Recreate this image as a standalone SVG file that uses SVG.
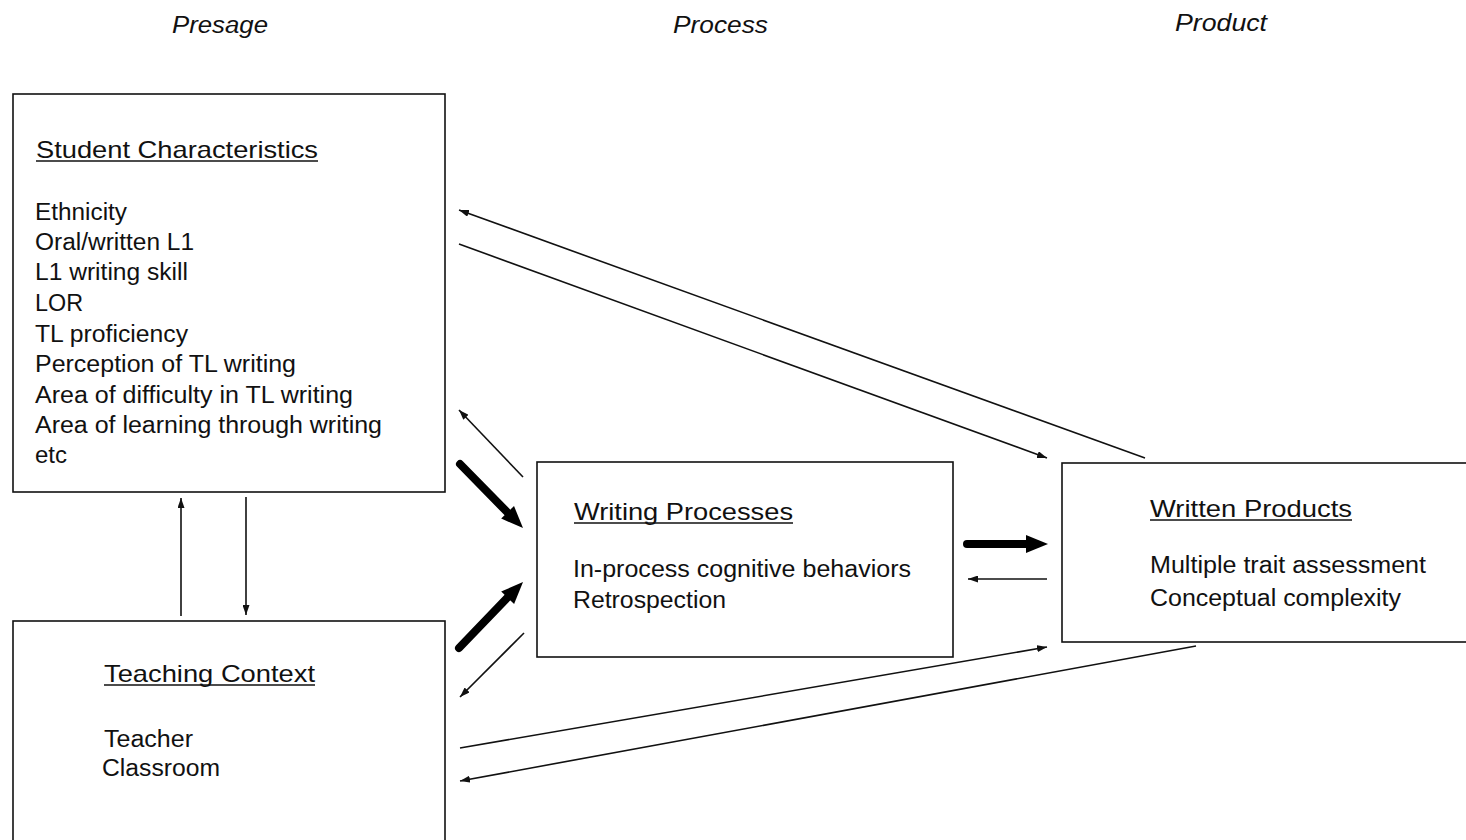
<svg xmlns="http://www.w3.org/2000/svg" width="1466" height="840" viewBox="0 0 1466 840">
<defs>
<style>
.box{fill:#fff;stroke:#111;stroke-width:1.6}
.t{font-family:"Liberation Sans",Arial,sans-serif;font-size:23px;fill:#111}
.h{font-family:"Liberation Sans",Arial,sans-serif;font-size:23px;font-style:italic;fill:#111}
.ttl{font-family:"Liberation Sans",Arial,sans-serif;font-size:24px;fill:#111}
.ul{stroke:#111;stroke-width:1.5}
.c{stroke:#111;stroke-width:1.6;fill:none}
.thick{stroke:#000;stroke-width:8;stroke-linecap:round;fill:none}
.head{fill:#000}
</style>
<marker id="a" markerUnits="userSpaceOnUse" markerWidth="10" markerHeight="7" refX="10" refY="3.5" orient="auto">
<path d="M0,0 L10,3.5 L0,7 Z" fill="#111"/>
</marker>
</defs>
<rect width="1466" height="840" fill="#fff"/>

<g id="headers">
<text class="h" x="172" y="33" textLength="96" lengthAdjust="spacingAndGlyphs">Presage</text>
<text class="h" x="673" y="33" textLength="95" lengthAdjust="spacingAndGlyphs">Process</text>
<text class="h" x="1175" y="31" textLength="92" lengthAdjust="spacingAndGlyphs">Product</text>
</g>

<g id="student-characteristics">
<rect class="box" x="13" y="94" width="432" height="398"/>
<text class="ttl" x="36" y="158" textLength="282" lengthAdjust="spacingAndGlyphs">Student Characteristics</text>
<line class="ul" x1="36" y1="161" x2="318" y2="161"/>
<text class="t" x="35" y="220" textLength="92" lengthAdjust="spacingAndGlyphs">Ethnicity</text>
<text class="t" x="35" y="250" textLength="159" lengthAdjust="spacingAndGlyphs">Oral/written L1</text>
<text class="t" x="35" y="280" textLength="153" lengthAdjust="spacingAndGlyphs">L1 writing skill</text>
<text class="t" x="35" y="311" textLength="48" lengthAdjust="spacingAndGlyphs">LOR</text>
<text class="t" x="35" y="342" textLength="153" lengthAdjust="spacingAndGlyphs">TL proficiency</text>
<text class="t" x="35" y="372" textLength="261" lengthAdjust="spacingAndGlyphs">Perception of TL writing</text>
<text class="t" x="35" y="403" textLength="318" lengthAdjust="spacingAndGlyphs">Area of difficulty in TL writing</text>
<text class="t" x="35" y="433" textLength="347" lengthAdjust="spacingAndGlyphs">Area of learning through writing</text>
<text class="t" x="35" y="463" textLength="32" lengthAdjust="spacingAndGlyphs">etc</text>
</g>

<g id="teaching-context">
<rect class="box" x="13" y="621" width="432" height="240"/>
<text class="ttl" x="104" y="682" textLength="211" lengthAdjust="spacingAndGlyphs">Teaching Context</text>
<line class="ul" x1="104" y1="685" x2="315" y2="685"/>
<text class="t" x="104" y="747" textLength="89" lengthAdjust="spacingAndGlyphs">Teacher</text>
<text class="t" x="102" y="776" textLength="118" lengthAdjust="spacingAndGlyphs">Classroom</text>
</g>

<g id="writing-processes">
<rect class="box" x="537" y="462" width="416" height="195"/>
<text class="ttl" x="574" y="520" textLength="219" lengthAdjust="spacingAndGlyphs">Writing Processes</text>
<line class="ul" x1="574" y1="523" x2="793" y2="523"/>
<text class="t" x="573" y="577" textLength="338" lengthAdjust="spacingAndGlyphs">In-process cognitive behaviors</text>
<text class="t" x="573" y="608" textLength="153" lengthAdjust="spacingAndGlyphs">Retrospection</text>
</g>

<g id="written-products">
<rect class="box" x="1062" y="463" width="420" height="179"/>
<text class="ttl" x="1150" y="517" textLength="202" lengthAdjust="spacingAndGlyphs">Written Products</text>
<line class="ul" x1="1150" y1="520" x2="1352" y2="520"/>
<text class="t" x="1150" y="573" textLength="276" lengthAdjust="spacingAndGlyphs">Multiple trait assessment</text>
<text class="t" x="1150" y="606" textLength="251" lengthAdjust="spacingAndGlyphs">Conceptual complexity</text>
</g>

<g id="connectors">
<line class="c" x1="181" y1="616" x2="181" y2="498" marker-end="url(#a)"/>
<line class="c" x1="246" y1="497" x2="246" y2="615" marker-end="url(#a)"/>
<line class="c" x1="1145" y1="458" x2="459" y2="210" marker-end="url(#a)"/>
<line class="c" x1="459" y1="244" x2="1047" y2="458" marker-end="url(#a)"/>
<line class="c" x1="523" y1="477" x2="459" y2="410" marker-end="url(#a)"/>
<line class="c" x1="524" y1="633" x2="460" y2="697" marker-end="url(#a)"/>
<line class="c" x1="1047" y1="579" x2="968" y2="579" marker-end="url(#a)"/>
<line class="c" x1="460" y1="748" x2="1047" y2="647" marker-end="url(#a)"/>
<line class="c" x1="1196" y1="646" x2="460" y2="781" marker-end="url(#a)"/>
<line class="thick" x1="460" y1="464" x2="508" y2="513"/>
<polygon class="head" points="523,528 501.2,518.6 514,506"/>
<line class="thick" x1="459" y1="648" x2="508" y2="597"/>
<polygon class="head" points="523,582 514.1,604.1 501.2,591.5"/>
<line class="thick" x1="967" y1="544" x2="1028" y2="544"/>
<polygon class="head" points="1048,544 1026,535 1026,553"/>
</g>
</svg>
